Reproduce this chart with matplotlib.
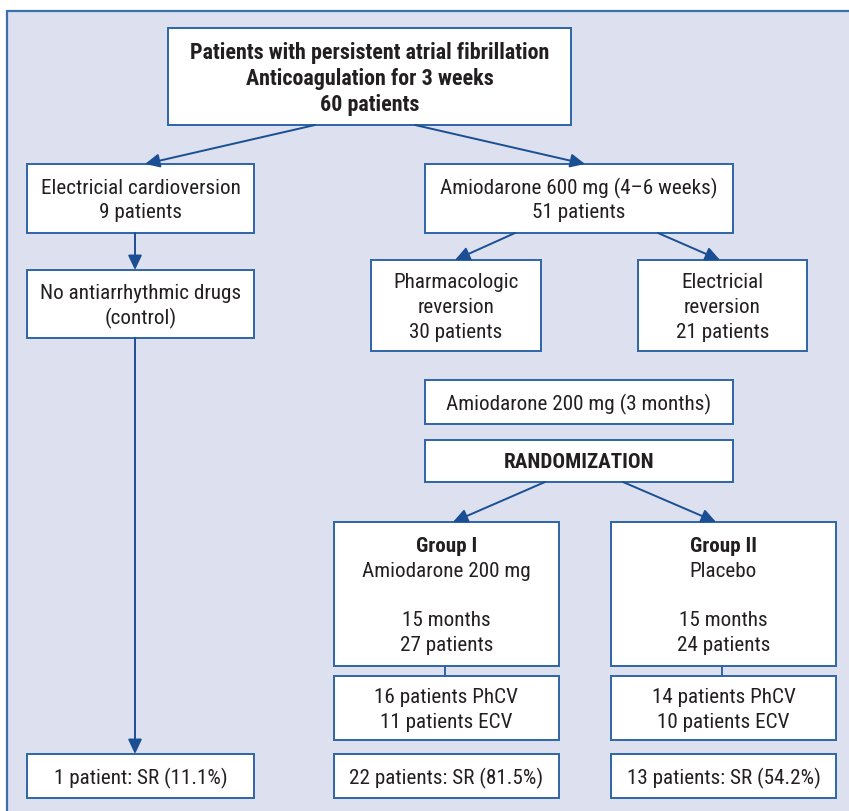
import matplotlib.pyplot as plt
from matplotlib.patches import Rectangle, FancyArrowPatch

# box texts
top_text = ["Patients with persistent atrial fibrillation", "Anticoagulation for 3 weeks", "60 patients"]
ecv_text = ["Electricial cardioversion", "9 patients"]
amio600_text = ["Amiodarone 600 mg (4\u20136 weeks)", "51 patients"]
control_text = ["No antiarrhythmic drugs", "(control)"]
pharm_text = ["Pharmacologic", "reversion", "30 patients"]
elrev_text = ["Electricial", "reversion", "21 patients"]
amio200_text = ["Amiodarone 200 mg (3 months)"]
rand_text = ["RANDOMIZATION"]
group1_text = ["Group I", "Amiodarone 200 mg", "", "15 months", "27 patients"]
group2_text = ["Group II", "Placebo", "", "15 months", "24 patients"]
cv1_text = ["16 patients PhCV", "11 patients ECV"]
cv2_text = ["14 patients PhCV", "10 patients ECV"]
sr0_text = ["1 patient: SR (11.1%)"]
sr1_text = ["22 patients: SR (81.5%)"]
sr2_text = ["13 patients: SR (54.2%)"]

PANEL = "#dce0ef"
EDGE = "#2e65a6"
ARROW = "#1b4f94"
TXT = "#231f20"
FONT = ["Roboto Condensed", "DejaVu Sans"]

fig = plt.figure(figsize=(8.49, 8.11), dpi=100)
ax = fig.add_axes([0, 0, 1, 1])
ax.set_xlim(0, 849)
ax.set_ylim(811, 0)
ax.axis("off")

ax.add_patch(Rectangle((7.5, 10.5), 860, 820, facecolor=PANEL, edgecolor="#3c70aa", lw=1.6))


def box(x0, y0, x1, y1, lines, bold=(), fs=15.2, step=24.8):
    ax.add_patch(Rectangle((x0, y0), x1 - x0, y1 - y0, facecolor="white", edgecolor=EDGE, lw=1.4))
    n = len(lines)
    cy = (y0 + y1) / 2
    for i, s in enumerate(lines):
        y = cy + (i - (n - 1) / 2) * step
        ax.text((x0 + x1) / 2, y, s, ha="center", va="center_baseline", fontsize=fs, color=TXT,
                family=FONT, fontweight="bold" if i in bold else "normal")


def arrow(x0, y0, x1, y1, head=True):
    if head:
        ax.add_patch(FancyArrowPatch((x0, y0), (x1, y1), arrowstyle="-|>,head_length=5.5,head_width=2.6",
                                     color=ARROW, lw=1.4, shrinkA=0, shrinkB=0, mutation_scale=1.6))
    else:
        ax.plot([x0, x1], [y0, y1], color=EDGE, lw=1.4)


box(168, 28, 571, 125, top_text, bold=(0, 1, 2), fs=15.8, step=25.5)
box(27, 164, 254, 233, ecv_text)
box(425, 164, 733, 233, amio600_text)
box(27, 270, 254, 338, control_text)
box(371, 260, 541, 351, pharm_text)
box(638, 260, 807, 351, elrev_text)
box(425, 380, 733, 424, amio200_text)
box(425, 440, 733, 482, rand_text, bold=(0,))
box(334, 522, 559, 666, group1_text, bold=(0,))
box(611, 522, 836, 666, group2_text, bold=(0,))
box(334, 676, 559, 740, cv1_text)
box(611, 676, 836, 740, cv2_text)
box(27, 754, 254, 798, sr0_text)
box(334, 754, 559, 798, sr1_text)
box(611, 754, 836, 798, sr2_text)

arrow(315, 125, 145, 164)
arrow(415, 125, 585, 164)
arrow(135, 233, 135, 270)
arrow(135, 338, 135, 754)
arrow(515, 233, 455, 260)
arrow(658, 233, 720, 260)
arrow(545, 482, 453, 522)
arrow(623, 482, 716, 522)
arrow(445, 666, 445, 676, head=False)
arrow(722, 666, 722, 676, head=False)

fig.savefig("out.png", dpi=100)
